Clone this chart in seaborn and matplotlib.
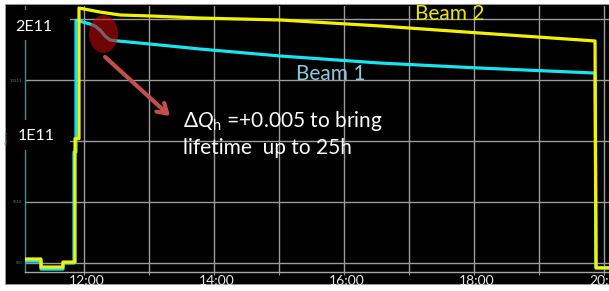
import matplotlib
matplotlib.use("Agg")
import matplotlib.pyplot as plt
import matplotlib.transforms as mtransforms
from matplotlib.patches import Ellipse, Rectangle
import numpy as np
import pandas as pd
import seaborn as sns

# ---------------- data (hours of day, current in units of 1E11) ----------------
b2_time = [11.092, 11.338, 11.338, 11.677, 11.677, 11.862, 11.862, 11.923, 11.923,
           12.246, 12.554, 13.015, 13.785, 15.015, 16.554, 18.092, 19.862, 19.877, 20.077]
b2_current = [0.033, 0.033, -0.033, -0.033, 0.008, 0.008, 1.02, 1.02, 2.09,
              2.057, 2.033, 2.025, 2.008, 1.992, 1.943, 1.885, 1.820, -0.04, -0.04]

b1_time = [11.092, 11.338, 11.338, 11.677, 11.677, 11.846, 11.846, 11.877, 11.877,
           12.092, 12.169, 12.246, 12.323, 12.400, 12.523, 13.015, 13.785, 15.015,
           16.554, 18.092, 19.862, 19.877, 20.077]
b1_current = [0.016, 0.016, -0.05, -0.05, 0.0, 0.0, 0.91, 0.91, 1.99,
              1.959, 1.943, 1.910, 1.861, 1.828, 1.820, 1.795, 1.754, 1.697,
              1.639, 1.598, 1.557, -0.04, -0.04]

hour_ticks = [12, 13, 14, 15, 16, 17, 18, 19, 20]
hour_labels = ["12:00", "", "14:00", "", "16:00", "", "18:00", "", "20:00"]
y_ticks = [0, 0.5, 1.0, 1.5, 2.0]
y_small_labels = ["0E0", "5E10", "", "1.5E11", ""]
big_labels = ["2E11", "1E11"]

df = pd.concat([
    pd.DataFrame({"time": b1_time, "current": b1_current, "beam": "Beam 1"}),
    pd.DataFrame({"time": b2_time, "current": b2_current, "beam": "Beam 2"}),
], ignore_index=True)

# ---------------- style ----------------
sns.set_theme(style="dark")
plt.rcParams["font.family"] = ["Lato", "DejaVu Sans"]
plt.rcParams["mathtext.fontset"] = "custom"
plt.rcParams["mathtext.rm"] = "Lato"
plt.rcParams["mathtext.it"] = "Lato:italic"

W, H = 609, 291
fig = plt.figure(figsize=(W / 100, H / 100), dpi=100)
fig.patch.set_facecolor("white")

# pixel (from top-left) -> figure transform
pix = mtransforms.Affine2D().scale(1 / W, -1 / H).translate(0, 1) + fig.transFigure

fig.add_artist(Rectangle((5, 4), 604, 280, transform=pix, facecolor="black",
                         edgecolor="#9a9a9a", lw=0.6, zorder=-10))

ax = fig.add_axes([25 / W, 19 / H, 584 / W, 266 / H])
ax.set_facecolor("none")

CYAN = "#19e3ee"
YELLOW = "#f2f200"
sns.lineplot(data=df, x="time", y="current", hue="beam", sort=False,
             estimator=None, err_style=None,
             palette={"Beam 1": CYAN, "Beam 2": YELLOW},
             hue_order=["Beam 1", "Beam 2"], lw=2.3, legend=False, ax=ax, zorder=3)

ax.set_xlim(11.0923, 20.0769)
ax.set_ylim(-0.0738, 2.1066)

# grid
ax.set_xticks(hour_ticks)
ax.set_xticklabels(hour_labels)
ax.set_yticks(y_ticks)
ax.set_yticklabels(y_small_labels)
ax.grid(True, color="#9c9c9c", lw=1.0, zorder=1)
ax.set_axisbelow(True)
ax.tick_params(axis="x", colors="#9c9c9c", labelcolor="#e6e6e6", labelsize=10,
               length=2, width=0.8, pad=0.5, bottom=True)
ax.tick_params(axis="y", labelcolor="#1a9c9c", labelsize=2.8, length=0, pad=2, left=False)
offset = mtransforms.ScaledTranslation(3 / 100, 0, fig.dpi_scale_trans)
for lab in ax.get_xticklabels():
    lab.set_transform(lab.get_transform() + offset)

for s in ["top", "right"]:
    ax.spines[s].set_visible(False)
ax.spines["bottom"].set_color("#a8a8a8")
ax.spines["bottom"].set_linewidth(1.0)
ax.spines["left"].set_color("#1a9c9c")
ax.spines["left"].set_linewidth(1.0)
ax.set_xlabel("")
ax.set_ylabel("")

# big axis labels with black masks
fig.add_artist(Rectangle((13, 10), 57, 30, transform=pix, facecolor="black",
                         edgecolor="none", zorder=5))
fig.add_artist(Rectangle((13, 120), 57, 30, transform=pix, facecolor="black",
                         edgecolor="none", zorder=5))
fig.text(15, 31, big_labels[0], transform=pix, color="white", fontsize=11.5,
         ha="left", va="baseline", zorder=6)
fig.text(18, 140, big_labels[1], transform=pix, color="white", fontsize=11.5,
         ha="left", va="baseline", zorder=6)
fig.text(7, 138, "Current", transform=pix, color="#1a9c9c", fontsize=2.8,
         rotation=90, ha="center", va="center", zorder=6)

# highlight ellipse + arrow
ax.add_patch(Ellipse((12.3, 1.877), 0.446, 0.311, facecolor="#be0a0a",
                     edgecolor="none", alpha=0.6, zorder=4))
ax.annotate("", xy=(13.354, 1.189), xytext=(12.292, 1.705),
            arrowprops=dict(arrowstyle="->,head_length=0.55,head_width=0.35",
                            color="#c0504d", lw=3),
            zorder=5)

# annotation text
ax.text(13.523, 1.115, r"$\Delta Q_\mathrm{h}$ =+0.005 to bring", color="white",
        fontsize=15, ha="left", va="baseline", zorder=6)
ax.text(13.523, 0.893, "lifetime  up to 25h", color="white",
        fontsize=15, ha="left", va="baseline", zorder=6)

# beam labels
ax.text(17.092, 1.992, "Beam 2", color="#e8e800", fontsize=15,
        ha="left", va="baseline", zorder=6)
ax.text(15.262, 1.5, "Beam 1", color="#8ec9da", fontsize=15,
        ha="left", va="baseline", zorder=6)

fig.savefig("out.png", dpi=100, facecolor=fig.get_facecolor())
